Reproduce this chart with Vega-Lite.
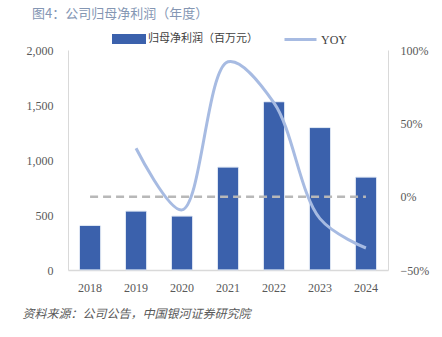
{
  "$schema": "https://vega.github.io/schema/vega-lite/v6.json",
  "width": 320,
  "height": 220,
  "autosize": "none",
  "padding": {"left": 68, "top": 50, "right": 54, "bottom": 67},
  "background": "#ffffff",
  "config": {
    "view": {"stroke": null},
    "font": "Noto Sans CJK SC"
  },
  "title": {
    "text": "图4：公司归母净利润（年度）",
    "anchor": "start",
    "frame": "group",
    "orient": "top",
    "dx": -36,
    "fontSize": 13,
    "fontWeight": "normal",
    "color": "#8496b3",
    "font": "Noto Sans CJK SC",
    "offset": 1
  },
  "data": {
    "values": [
      {"year": "2018", "profit": 405, "yoy": null, "base": 0},
      {"year": "2019", "profit": 536, "yoy": 0.33, "base": 0},
      {"year": "2020", "profit": 491, "yoy": -0.09, "base": 0},
      {"year": "2021", "profit": 936, "yoy": 0.92, "base": 0},
      {"year": "2022", "profit": 1530, "yoy": 0.64, "base": 0},
      {"year": "2023", "profit": 1295, "yoy": -0.15, "base": 0},
      {"year": "2024", "profit": 845, "yoy": -0.35, "base": 0}
    ]
  },
  "encoding": {
    "x": {
      "field": "year",
      "type": "ordinal",
      "scale": {"paddingInner": 0.54, "paddingOuter": 0.25},
      "axis": {
        "title": "资料来源：公司公告，中国银河证券研究院",
        "titleFont": "Noto Sans CJK SC",
        "titleFontStyle": "italic",
        "titleFontWeight": "normal",
        "titleFontSize": 12,
        "titleColor": "#595959",
        "titleAnchor": "start",
        "titleAlign": "left",
        "titleBaseline": "alphabetic",
        "titleX": -46,
        "titleY": 47,
        "labelAngle": 0,
        "labelFont": "Liberation Serif",
        "labelFontSize": 12,
        "labelColor": "#595959",
        "labelPadding": 12,
        "ticks": false,
        "domainColor": "#d9d9d9",
        "domainWidth": 1.5
      }
    }
  },
  "layer": [
    {
      "mark": {"type": "bar", "color": "#3b61ac", "stroke": "#dce4f2", "strokeWidth": 0.8, "cornerRadius": 1},
      "encoding": {
        "y": {
          "field": "profit",
          "type": "quantitative",
          "scale": {"domain": [0, 2000]},
          "axis": {
            "title": null,
            "values": [0, 500, 1000, 1500, 2000],
            "format": ",.0f",
            "grid": false,
            "ticks": false,
            "domainColor": "#d9d9d9",
            "labelFont": "Liberation Serif",
            "labelFontSize": 12,
            "labelColor": "#595959",
            "labelPadding": 15
          }
        },
        "fill": {
          "datum": "归母净利润（百万元）",
          "type": "nominal",
          "scale": {"range": ["#3b61ac"]},
          "legend": {
            "title": null,
            "orient": "none",
            "legendX": 44,
            "legendY": -28,
            "symbolType": "M-1,-0.3H1V0.3H-1Z",
            "symbolSize": 1156,
            "symbolStrokeWidth": 0,
            "labelFont": "Noto Sans CJK SC",
            "labelFontSize": 11,
            "labelColor": "#404040",
            "labelOffset": 2
          }
        }
      }
    },
    {
      "layer": [
        {
          "mark": {"type": "line", "color": "#b8b8b8", "strokeWidth": 2.5, "strokeDash": [8, 5]},
          "encoding": {
            "y": {"field": "base", "type": "quantitative"}
          }
        },
        {
          "mark": {"type": "line", "strokeWidth": 3, "interpolate": "catmull-rom"},
          "encoding": {
            "y": {"field": "yoy", "type": "quantitative"},
            "stroke": {
              "datum": "YOY",
              "type": "nominal",
              "scale": {"range": ["#a7bbe2"]},
              "legend": {
                "title": null,
                "orient": "none",
                "legendX": 215,
                "legendY": -28,
                "symbolType": "stroke",
                "symbolSize": 1024,
                "symbolStrokeWidth": 3,
                "labelFont": "Liberation Serif",
                "labelFontSize": 12,
                "labelColor": "#404040",
                "labelOffset": 3
              }
            }
          }
        }
      ],
      "encoding": {
        "y": {
          "type": "quantitative",
          "scale": {"domain": [-0.5, 1]},
          "axis": {
            "orient": "right",
            "title": null,
            "values": [-0.5, 0, 0.5, 1],
            "format": ".0%",
            "grid": false,
            "ticks": false,
            "domainColor": "#d9d9d9",
            "labelFont": "Liberation Serif",
            "labelFontSize": 12,
            "labelColor": "#595959",
            "labelPadding": 12
          }
        }
      }
    }
  ],
  "resolve": {"scale": {"y": "independent", "fill": "independent", "stroke": "independent"}}
}
